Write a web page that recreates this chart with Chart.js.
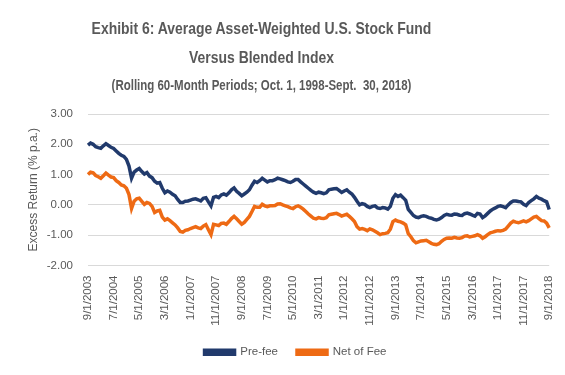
<!DOCTYPE html>
<html>
<head>
<meta charset="utf-8">
<script src="https://cdn.jsdelivr.net/npm/chart.js@4/dist/chart.umd.min.js"></script>
<style>
  html, body { margin: 0; padding: 0; background: #fff; }
  #wrap { position: relative; width: 565px; height: 375px; }
  #myChart { position: absolute; left: 0; top: 0; }
  .ttl { position: absolute; left: 0; width: 523px; text-align: center; color: #595959;
         font-family: "Liberation Sans", Arial, sans-serif; font-weight: bold; white-space: pre;
         transform: scaleX(0.82); transform-origin: 261.5px 0; }
</style>
</head>
<body>
<div id="wrap">
  <canvas id="myChart" width="565" height="375"></canvas>
  <div class="ttl" style="top:19px; font-size:17px; line-height:20px;">Exhibit 6: Average Asset-Weighted U.S. Stock Fund</div>
  <div class="ttl" style="top:48px; font-size:17px; line-height:20px;">Versus Blended Index</div>
  <div class="ttl" style="top:76px; font-size:14px; line-height:18px;">(Rolling 60-Month Periods; Oct. 1, 1998-Sept.  30, 2018)</div>
</div>
<script>
// monthly labels, 9/1/2003 .. 9/1/2018
var labels = [];
for (var y = 2003, mo = 9; y < 2018 || (y === 2018 && mo <= 9); mo++) {
    if (mo > 12) { mo = 1; y++; }
    if (y === 2018 && mo > 9) break;
    labels.push(mo + '/1/' + y);
}

var preFee = [
    1.97, 2.04, 2.00, 1.92, 1.89, 1.87, 1.95, 2.02, 1.96, 1.90,
    1.86, 1.78, 1.70, 1.64, 1.60, 1.50, 1.28, 0.88, 1.08, 1.15,
    1.20, 1.10, 1.02, 1.07, 0.95, 0.90, 0.78, 0.72, 0.74, 0.55,
    0.40, 0.46, 0.42, 0.35, 0.30, 0.18, 0.08, 0.08, 0.12, 0.13,
    0.16, 0.19, 0.20, 0.17, 0.13, 0.22, 0.24, 0.10, -0.03, 0.25,
    0.28, 0.24, 0.33, 0.36, 0.32, 0.40, 0.50, 0.56, 0.45, 0.38,
    0.30, 0.36, 0.42, 0.50, 0.65, 0.78, 0.74, 0.80, 0.88, 0.82,
    0.76, 0.80, 0.80, 0.83, 0.88, 0.86, 0.83, 0.80, 0.76, 0.74,
    0.78, 0.84, 0.84, 0.76, 0.69, 0.62, 0.55, 0.48, 0.42, 0.38,
    0.42, 0.40, 0.37, 0.40, 0.50, 0.52, 0.53, 0.54, 0.48, 0.41,
    0.46, 0.50, 0.42, 0.36, 0.25, 0.12, 0.00, 0.04, 0.02, -0.05,
    -0.09, -0.05, -0.03, -0.10, -0.12, -0.09, -0.10, -0.14, -0.05, 0.22,
    0.34, 0.28, 0.32, 0.24, 0.15, -0.15, -0.25, -0.35, -0.40, -0.42,
    -0.38, -0.36, -0.38, -0.42, -0.44, -0.48, -0.50, -0.47, -0.42, -0.35,
    -0.31, -0.33, -0.34, -0.30, -0.31, -0.34, -0.35, -0.29, -0.27, -0.30,
    -0.34, -0.37, -0.28, -0.30, -0.42, -0.36, -0.28, -0.20, -0.14, -0.10,
    -0.05, -0.03, -0.06, -0.09, 0.00, 0.08, 0.13, 0.13, 0.11, 0.10,
    0.02, -0.02, 0.08, 0.14, 0.20, 0.28, 0.22, 0.19, 0.14, 0.10,
    -0.15
];

var netOfFee = [
    1.00, 1.08, 1.06, 0.97, 0.93, 0.88, 0.96, 1.05, 0.98, 0.92,
    0.90, 0.80, 0.74, 0.66, 0.63, 0.55, 0.34, -0.12, 0.12, 0.20,
    0.22, 0.12, 0.02, 0.08, 0.05, -0.05, -0.25, -0.20, -0.18, -0.40,
    -0.50, -0.46, -0.52, -0.59, -0.66, -0.76, -0.88, -0.90, -0.84, -0.82,
    -0.78, -0.75, -0.72, -0.76, -0.78, -0.70, -0.65, -0.82, -0.98, -0.64,
    -0.66, -0.68, -0.61, -0.60, -0.64, -0.55, -0.45, -0.38, -0.46, -0.55,
    -0.64, -0.58, -0.48, -0.38, -0.22, -0.05, -0.08, -0.08, 0.02, -0.03,
    -0.06, -0.03, -0.03, -0.02, 0.03, 0.04, 0.00, -0.03, -0.06, -0.10,
    -0.12, -0.06, -0.03, -0.08, -0.14, -0.22, -0.30, -0.37, -0.44, -0.46,
    -0.42, -0.44, -0.45, -0.42, -0.33, -0.31, -0.29, -0.28, -0.32, -0.37,
    -0.34, -0.31, -0.38, -0.46, -0.55, -0.72, -0.80, -0.78, -0.81, -0.85,
    -0.79, -0.82, -0.87, -0.92, -0.98, -0.95, -0.94, -0.92, -0.80, -0.55,
    -0.50, -0.54, -0.56, -0.60, -0.66, -0.95, -1.05, -1.18, -1.25, -1.22,
    -1.19, -1.18, -1.17, -1.22, -1.27, -1.30, -1.31, -1.28, -1.20, -1.14,
    -1.10, -1.09, -1.10, -1.07, -1.09, -1.10, -1.08, -1.03, -1.02, -1.06,
    -1.04, -1.02, -0.98, -1.02, -1.10, -1.05, -0.98, -0.92, -0.90, -0.87,
    -0.85, -0.86, -0.84, -0.80, -0.70, -0.60, -0.54, -0.57, -0.59, -0.56,
    -0.53, -0.56, -0.52, -0.46, -0.40, -0.38, -0.45, -0.52, -0.53, -0.60,
    -0.76
];

var yTicks = [3, 2, 1, 0, -1, -2];

var sans = '"Liberation Sans", Arial, sans-serif';
var blue = '#213A6C';
var orange = '#EE6A14';

var ctx = document.getElementById('myChart').getContext('2d');
var myChart = new Chart(ctx, {
    type: 'line',
    data: {
        labels: labels,
        datasets: [{
            label: 'Pre-fee',
            data: preFee,
            borderColor: blue,
            backgroundColor: blue,
            borderWidth: 3.5,
            pointRadius: 0,
            tension: 0
        },
        {
            label: 'Net of Fee',
            data: netOfFee,
            borderColor: orange,
            backgroundColor: orange,
            borderWidth: 3.5,
            pointRadius: 0,
            tension: 0
        }]
    },
    options: {
        responsive: false,
        animation: false,
        layout: {
            padding: { top: 114, left: 26, right: 0, bottom: 7 }
        },
        plugins: {
            legend: {
                position: 'bottom',
                labels: {
                    color: '#595959',
                    font: { family: sans, size: 11.5 },
                    boxWidth: 30,
                    boxHeight: 4,
                    padding: 19
                }
            },
            tooltip: { enabled: false }
        },
        scales: {
            y: {
                min: -2,
                max: 3,
                afterBuildTicks: function (axis) {
                    axis.ticks = yTicks.map(function (v) { return { value: v }; });
                },
                afterFit: function (axis) { axis.width = 62; },
                ticks: {
                    color: '#595959',
                    font: { family: sans, size: 11.5 },
                    padding: 15,
                    callback: function (v) { return v.toFixed(2); }
                },
                grid: { color: '#D9D9D9', drawTicks: false },
                border: { display: false },
                title: {
                    display: true,
                    text: 'Excess Return (% p.a.)',
                    color: '#595959',
                    font: { family: sans, size: 12 },
                    padding: { top: 0, bottom: 10 }
                }
            },
            x: {
                afterFit: function (axis) { axis.height = 62; },
                ticks: {
                    color: '#595959',
                    font: { family: sans, size: 11.5 },
                    autoSkip: false,
                    maxRotation: 90,
                    minRotation: 90,
                    padding: 2,
                    callback: function (v, i) { return i % 10 === 0 ? labels[i] : null; }
                },
                grid: { display: false },
                border: { display: false }
            }
        }
    }
});
</script>
</body>
</html>
